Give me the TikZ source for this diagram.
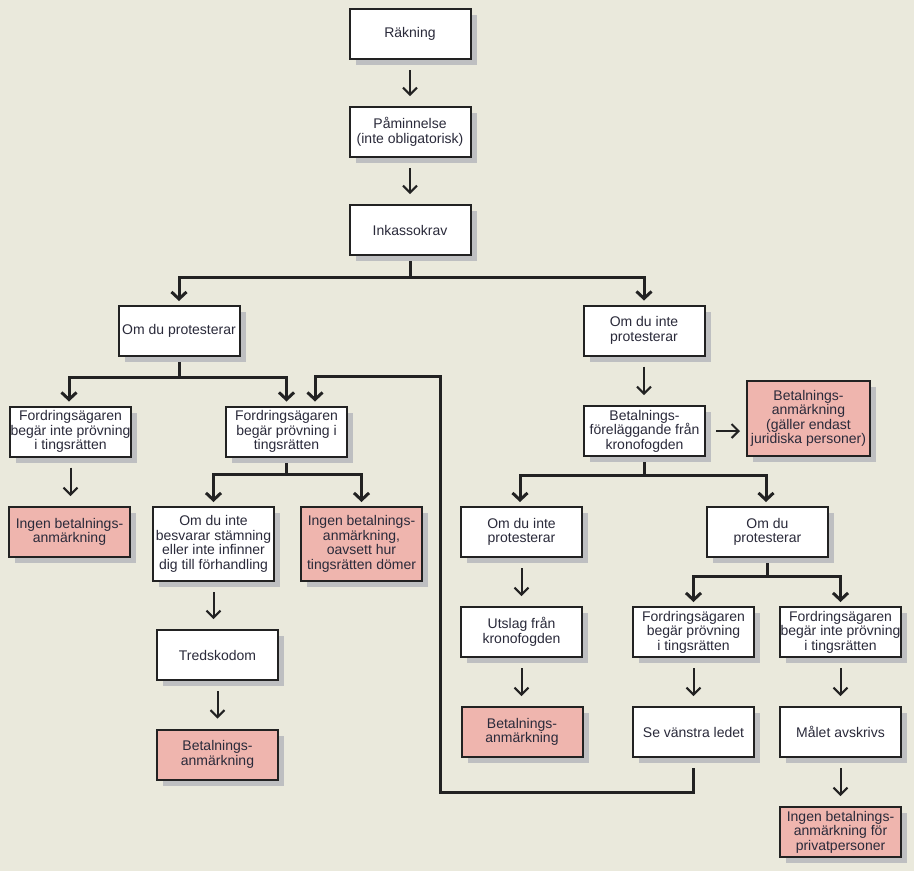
\documentclass[tikz,border=0pt]{standalone}
\usepackage{fontspec}
\setmainfont{Liberation Sans}
\usetikzlibrary{arrows.meta,shadows}
\definecolor{bgc}{HTML}{EAE9DC}
\definecolor{pinkc}{HTML}{EFB5AE}
\definecolor{shc}{HTML}{BEBFC1}
\definecolor{txt}{HTML}{2A2A3A}
\definecolor{lnc}{HTML}{222222}
\pgfdeclarelayer{back}
\pgfdeclarelayer{lines}
\pgfsetlayers{back,lines,main}
\begin{document}
\begin{tikzpicture}[x=1pt,y=-1pt,
  box/.style={draw=lnc, line width=2pt, fill=white, minimum width=121pt,
    minimum height=50pt, inner sep=0pt, align=center,
    font=\fontsize{14}{14.5}\selectfont, text=txt,
    general shadow={fill=shc, shadow xshift=6pt, shadow yshift=-6pt}},
  pbox/.style={box, fill=pinkc},
  tallbox/.style={minimum height=74pt},
  thinarr/.style={draw=lnc, line width=2pt,
    -{Straight Barb[length=7pt,width=14pt,line width=2pt]},
    shorten <=10pt, shorten >=10pt},
  branch/.style={draw=lnc, line width=3pt},
  brarr/.style={branch, -{Straight Barb[length=7pt,width=15pt,line width=3pt]},
    shorten >=4pt}
]
\useasboundingbox (0,0) rectangle (914,871);
\begin{pgfonlayer}{back}
  \fill[bgc] (0,0) rectangle (914,871);
\end{pgfonlayer}

% top column
\node[box] (r1) at (410,34) {Räkning};
\node[box] (r2) at (410,132) {Påminnelse\\(inte obligatorisk)};
\node[box] (r3) at (410,230) {Inkassokrav};

% left branch
\node[box] (l1) at (179,331) {Om du protesterar};
\node[box] (l2a) at (70.5,431.5) {Fordringsägaren\\begär inte prövning\\i tingsrätten};
\node[box] (l2b) at (286.5,431.5) {Fordringsägaren\\begär prövning i\\tingsrätten};
\node[pbox] (l3a) at (69.5,532) {Ingen betalnings-\\anmärkning};
\node[box,tallbox] (l3b) at (213.5,544) {Om du inte\\besvarar stämning\\eller inte infinner\\dig till förhandling};
\node[pbox,tallbox] (l3c) at (361.5,544) {Ingen betalnings-\\anmärkning,\\oavsett hur\\tingsrätten dömer};
\node[box] (l4) at (217.5,655) {Tredskodom};
\node[pbox] (l5) at (217.5,754.5) {Betalnings-\\anmärkning};

% right branch
\node[box] (rr1) at (644,330.5) {Om du inte\\protesterar};
\node[box] (rr2) at (644.5,431) {Betalnings-\\föreläggande från\\kronofogden};
\node[pbox,minimum width=123pt,minimum height=75pt] (rr2b) at (808.5,418.5) {Betalnings-\\anmärkning\\(gäller endast\\juridiska personer)};
\node[box] (rr3a) at (521.5,532) {Om du inte\\protesterar};
\node[box] (rr3b) at (767.5,532) {Om du\\protesterar};
\node[box] (rr4a) at (521.5,632) {Utslag från\\kronofogden};
\node[pbox] (rr5a) at (522,732) {Betalnings-\\anmärkning};
\node[box] (rr4b) at (693.5,632) {Fordringsägaren\\begär prövning\\i tingsrätten};
\node[box] (rr4c) at (840.5,632) {Fordringsägaren\\begär inte prövning\\i tingsrätten};
\node[box] (rr5b) at (693.5,732) {Se vänstra ledet};
\node[box] (rr5c) at (840.5,732) {Målet avskrivs};
\node[pbox] (rr6c) at (840.5,832) {Ingen betalnings-\\anmärkning för\\privatpersoner};

\coordinate (cA) at (440.5,792);
\coordinate (cB) at (440.5,376.5);

\begin{pgfonlayer}{lines}
  % thin arrows
  \draw[thinarr] (r1.south) -- (r2.north);
  \draw[thinarr] (r2.south) -- (r3.north);
  \draw[thinarr] (rr1.south) -- (rr1.south |- rr2.north);
  \draw[thinarr] (l2a.south) -- (l2a.south |- l3a.north);
  \draw[thinarr] (l3b.south) -- (l3b.south |- l4.north);
  \draw[thinarr] (l4.south) -- (l5.north);
  \draw[thinarr] (rr3a.south) -- (rr4a.north);
  \draw[thinarr] (rr4a.south) -- (rr4a.south |- rr5a.north);
  \draw[thinarr] (rr4b.south) -- (rr5b.north);
  \draw[thinarr] (rr5c.south) -- (rr6c.north);
  \draw[thinarr] (rr4c.south) -- (rr5c.north);
  \draw[thinarr, shorten <=10pt, shorten >=6pt] (rr2.east) -- (rr2.east -| rr2b.west);

  % branches
  \draw[branch] (r3.south) -- ++(0,21) coordinate (j1);
  \draw[brarr] (j1) -| (l1.north);
  \draw[brarr] (j1) -| (rr1.north);

  \draw[branch] (l1.south) -- ++(0,20) coordinate (j2);
  \draw[brarr] (j2) -| ([xshift=-1.5pt]l2a.north);
  \draw[brarr] (j2) -| (l2b.north);

  \draw[branch] (l2b.south) -- ++(0,17) coordinate (j3);
  \draw[brarr] (j3) -| (l3b.north);
  \draw[brarr] (j3) -| (l3c.north);

  \draw[branch] (rr2.south) -- ++(0,18) coordinate (j4);
  \draw[brarr] (j4) -| ([xshift=-1.5pt]rr3a.north);
  \draw[brarr] (j4) -| ([xshift=-1.5pt]rr3b.north);

  \draw[branch] (rr3b.south) -- ++(0,18) coordinate (j5);
  \draw[brarr] (j5) -| (rr4b.north);
  \draw[brarr] (j5) -| (rr4c.north);

  % loop back to left side
  \draw[brarr, shorten <=10pt] (rr5b.south) |- (cA) -- (cB) -| ([xshift=28.5pt]l2b.north);
\end{pgfonlayer}
\end{tikzpicture}
\end{document}
